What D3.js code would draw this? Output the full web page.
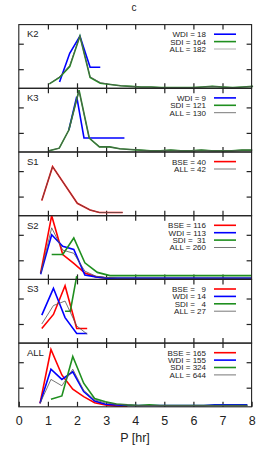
<!DOCTYPE html>
<html>
<head>
<meta charset="utf-8">
<script src="https://cdn.jsdelivr.net/npm/d3@7"></script>
<style>
  body { margin: 0; background: #fff; }
  text { font-family: "Liberation Sans", Arial, sans-serif; fill: #222; }
</style>
</head>
<body>
<svg id="chart"></svg>
<script>
// panel names, top to bottom
var panelNames = ["K2", "K3", "S1", "S2", "S3", "ALL"];
var xTicks = [0, 1, 2, 3, 4, 5, 6, 7, 8];
var yTicks = [0.3, 0.7];

// K2
var k2P = [1.05, 1.40, 1.75, 2.10, 2.45, 2.80, 3.15, 3.50, 3.85, 4.20, 4.55, 4.90, 5.25, 5.60, 5.95, 6.30, 6.65, 7.00, 7.35, 7.70, 8.05];
var k2SDI = [0.07, 0.17, 0.34, 0.82, 0.17, 0.08, 0.06, 0.04, 0.03, 0.02, 0.02, 0.01, 0.01, 0.01, 0.01, 0.02, 0.03, 0.02, 0.01, 0.02, 0.03];
var k2ALL = [0.07, 0.18, 0.36, 0.82, 0.18, 0.09, 0.06, 0.04, 0.03, 0.02, 0.02, 0.01, 0.01, 0.01, 0.01, 0.02, 0.03, 0.02, 0.01, 0.02, 0.03];
var k2WdiP = [1.40, 1.75, 2.10, 2.45, 2.80];
var k2WDI = [0.10, 0.55, 0.82, 0.33, 0.33];

// K3
var k3P = [1.04, 1.39, 1.72, 2.07, 2.42, 2.77, 3.12, 3.47, 3.82, 4.17, 4.52, 4.87, 5.22, 5.57, 5.92, 6.27, 6.62, 6.97, 7.32, 7.67, 8.02];
var k3SDI = [0.02, 0.06, 0.345, 0.97, 0.22, 0.08, 0.08, 0.05, 0.04, 0.03, 0.02, 0.02, 0.03, 0.02, 0.02, 0.03, 0.02, 0.02, 0.02, 0.03, 0.03];
var k3ALL = [0.02, 0.06, 0.345, 0.96, 0.22, 0.08, 0.08, 0.05, 0.04, 0.03, 0.02, 0.02, 0.03, 0.02, 0.02, 0.03, 0.02, 0.02, 0.02, 0.03, 0.03];
var k3WdiP = [1.72, 1.99, 2.24, 3.63];
var k3WDI = [0.345, 0.87, 0.22, 0.22];

// S1
var s1P = [0.79, 1.16, 2.01, 2.45, 2.77, 3.57];
var s1BSE = [0.24, 0.77, 0.195, 0.09, 0.05, 0.05];
var s1ALL = [0.24, 0.77, 0.195, 0.09, 0.05, 0.05];

// S2
var s2P = [0.75, 1.13, 1.51, 1.89, 2.27, 2.65, 3.03, 3.41, 3.79, 4.5, 5.5, 6.5, 7.5, 8.0];
var s2BSE = [0.10, 1.00, 0.39, 0.25, 0.10, 0.04, 0.02, 0.01, 0.01, 0.01, 0.01, 0.01, 0.01, 0.01];
var s2WDI = [0.08, 0.70, 0.52, 0.47, 0.07, 0.04, 0.02, 0.02, 0.02, 0.02, 0.02, 0.02, 0.02, 0.02];
var s2ALL = [0.09, 0.81, 0.46, 0.41, 0.13, 0.05, 0.03, 0.02, 0.02, 0.02, 0.02, 0.02, 0.02, 0.02];
var s2SdiP = [1.13, 1.51, 1.89, 2.27, 2.70, 3.13, 4.5, 5.5, 6.5, 7.5, 8.0];
var s2SDI = [0.39, 0.39, 0.65, 0.26, 0.11, 0.06, 0.06, 0.06, 0.06, 0.06, 0.06];

// S3
var s3P = [0.79, 1.19, 1.59, 1.99, 2.35];
var s3BSE = [0.23, 0.45, 0.90, 0.23, 0.23];
var s3WDI = [0.44, 0.86, 0.40, 0.15, 0.15];
var s3ALL = [0.30, 0.59, 0.66, 0.27, 0.14];
var s3SdiP = [1.59, 1.77, 1.99];
var s3SDI = [0.50, 0.50, 1.05];

// ALL
var allP = [0.73, 1.105, 1.48, 1.855, 2.23, 2.605, 2.98, 3.355, 3.73, 4.105, 4.48, 4.855, 5.23, 5.605, 5.98, 6.355, 6.73, 7.105, 7.48, 7.855];
var allBSE = [0.055, 0.90, 0.50, 0.275, 0.16, 0.065, 0.03, 0.01, 0.01];
var allWDI = [0.055, 0.59, 0.43, 0.55, 0.24, 0.09, 0.04, 0.03, 0.02, 0.02, 0.02, 0.02, 0.02, 0.02, 0.02, 0.02, 0.03, 0.03, 0.03, 0.03];
var allALL = [0.055, 0.43, 0.33, 0.59, 0.26, 0.11, 0.06, 0.04, 0.03, 0.02, 0.02, 0.02, 0.02, 0.02, 0.02, 0.02, 0.02, 0.02, 0.02, 0.02];
var allSdiP = allP.slice(1);
var allSDI = [0.12, 0.17, 0.79, 0.37, 0.13, 0.08, 0.045, 0.03, 0.02, 0.03, 0.02, 0.02, 0.02, 0.02, 0.02, 0.02, 0.02, 0.02, 0.02];

// legend labels per panel
var k2Labels = ["WDI = 18", "SDI = 164", "ALL = 182"];
var k3Labels = ["WDI = 9", "SDI = 121", "ALL = 130"];
var s1Labels = ["BSE = 40", "ALL = 42"];
var s2Labels = ["BSE = 116", "WDI = 113", "SDI =  31", "ALL = 260"];
var s3Labels = ["BSE =   9", "WDI = 14", "SDI =   4", "ALL = 27"];
var allLabels = ["BSE = 165", "WDI = 155", "SDI = 324", "ALL = 644"];

var colors = { BSE: "#ff0000", WDI: "#0000ff", SDI: "#1f8f1f", ALL: "#555555" };

function ser(kind, xs, ys) { return { kind: kind, xs: xs, ys: ys }; }

var panels = [
  { name: "K2", labels: k2Labels, kinds: ["WDI", "SDI", "ALL"],
    series: [ser("WDI", k2WdiP, k2WDI), ser("SDI", k2P, k2SDI), ser("ALL", k2P, k2ALL)] },
  { name: "K3", labels: k3Labels, kinds: ["WDI", "SDI", "ALL"],
    series: [ser("WDI", k3WdiP, k3WDI), ser("SDI", k3P, k3SDI), ser("ALL", k3P, k3ALL)] },
  { name: "S1", labels: s1Labels, kinds: ["BSE", "ALL"],
    series: [ser("BSE", s1P, s1BSE), ser("ALL", s1P, s1ALL)] },
  { name: "S2", labels: s2Labels, kinds: ["BSE", "WDI", "SDI", "ALL"],
    series: [ser("BSE", s2P, s2BSE), ser("WDI", s2P, s2WDI), ser("SDI", s2SdiP, s2SDI), ser("ALL", s2P, s2ALL)] },
  { name: "S3", labels: s3Labels, kinds: ["BSE", "WDI", "SDI", "ALL"],
    series: [ser("BSE", s3P, s3BSE), ser("WDI", s3P, s3WDI), ser("SDI", s3SdiP, s3SDI), ser("ALL", s3P, s3ALL)] },
  { name: "ALL", labels: allLabels, kinds: ["BSE", "WDI", "SDI", "ALL"],
    series: [ser("BSE", allP, allBSE), ser("WDI", allP, allWDI), ser("SDI", allSdiP, allSDI), ser("ALL", allP, allALL)] }
];

var width = 262, height = 451;
var left = 18.8, right = 251.6, top0 = 24.6, panelH = 63.7;

var svg = d3.select("#chart").attr("width", width).attr("height", height);

var x = d3.scaleLinear().domain([0, 8]).range([left, right]);

// title
svg.append("text")
  .attr("x", 134).attr("y", 10.5)
  .attr("text-anchor", "middle")
  .style("font-size", "10px")
  .text("c");

panels.forEach(function (p, i) {
  var top = top0 + i * panelH, bottom = top + panelH;
  var y = d3.scaleLinear().domain([0, 1]).range([bottom, top]);
  var g = svg.append("g");
  var last = i === panels.length - 1;

  // ticks, all pointing inward
  var bx = d3.axisBottom(x).tickValues(last ? xTicks : [1, 2, 3, 4, 5, 6, 7])
    .tickSize(-5).tickSizeOuter(0).tickPadding(9);
  if (!last) bx.tickFormat("");
  var ax = g.append("g").attr("transform", "translate(0," + bottom + ")").call(bx);
  g.append("g").attr("transform", "translate(0," + top + ")")
    .call(d3.axisTop(x).tickValues([1, 2, 3, 4, 5, 6, 7]).tickSize(-5).tickSizeOuter(0).tickFormat(""));
  g.append("g").attr("transform", "translate(" + left + ",0)")
    .call(d3.axisLeft(y).tickValues(yTicks).tickSize(-5).tickSizeOuter(0).tickFormat(""));
  g.append("g").attr("transform", "translate(" + right + ",0)")
    .call(d3.axisRight(y).tickValues(yTicks).tickSize(-5).tickSizeOuter(0).tickFormat(""));
  g.selectAll(".domain").remove();
  g.selectAll(".tick line").attr("stroke", "#222").attr("stroke-width", 1.2);
  ax.selectAll("text")
    .style("font-family", "Liberation Sans, Arial, sans-serif")
    .style("font-size", "12.5px").attr("fill", "#222");

  // curves
  var line = d3.line().x(function (d) { return x(d[0]); }).y(function (d) { return y(d[1]); });
  p.series.forEach(function (s) {
    var pts = d3.zip(s.xs, s.ys);
    g.append("path")
      .attr("d", line(pts))
      .attr("fill", "none")
      .attr("stroke", colors[s.kind])
      .attr("stroke-width", s.kind === "ALL" ? 0.8 : 1.6)
      .attr("stroke-linejoin", "miter");
  });

  // frame
  g.append("rect")
    .attr("x", left).attr("y", top)
    .attr("width", right - left).attr("height", panelH)
    .attr("fill", "none").attr("stroke", "#222").attr("stroke-width", 1.1);

  // panel label
  g.append("text")
    .attr("x", 27).attr("y", top + 12.8)
    .style("font-size", "9.5px")
    .text(p.name);

  // legend
  p.labels.forEach(function (lab, j) {
    var cy = top + 9.6 + j * 7.4;
    g.append("text")
      .attr("x", 206).attr("y", cy + 2.9)
      .attr("text-anchor", "end")
      .style("font-size", "8px")
      .style("white-space", "pre")
      .attr("xml:space", "preserve")
      .text(lab);
    var k = p.kinds[j];
    g.append("line")
      .attr("x1", 214).attr("x2", 236).attr("y1", cy).attr("y2", cy)
      .attr("stroke", k === "ALL" && p.name === "K2" ? "#999" : colors[k])
      .attr("stroke-width", k === "ALL" ? 0.8 : 1.6);
  });
});

// x label
svg.append("text")
  .attr("x", 135).attr("y", 441.5)
  .attr("text-anchor", "middle")
  .style("font-size", "12.5px")
  .text("P [hr]");
</script>
</body>
</html>
